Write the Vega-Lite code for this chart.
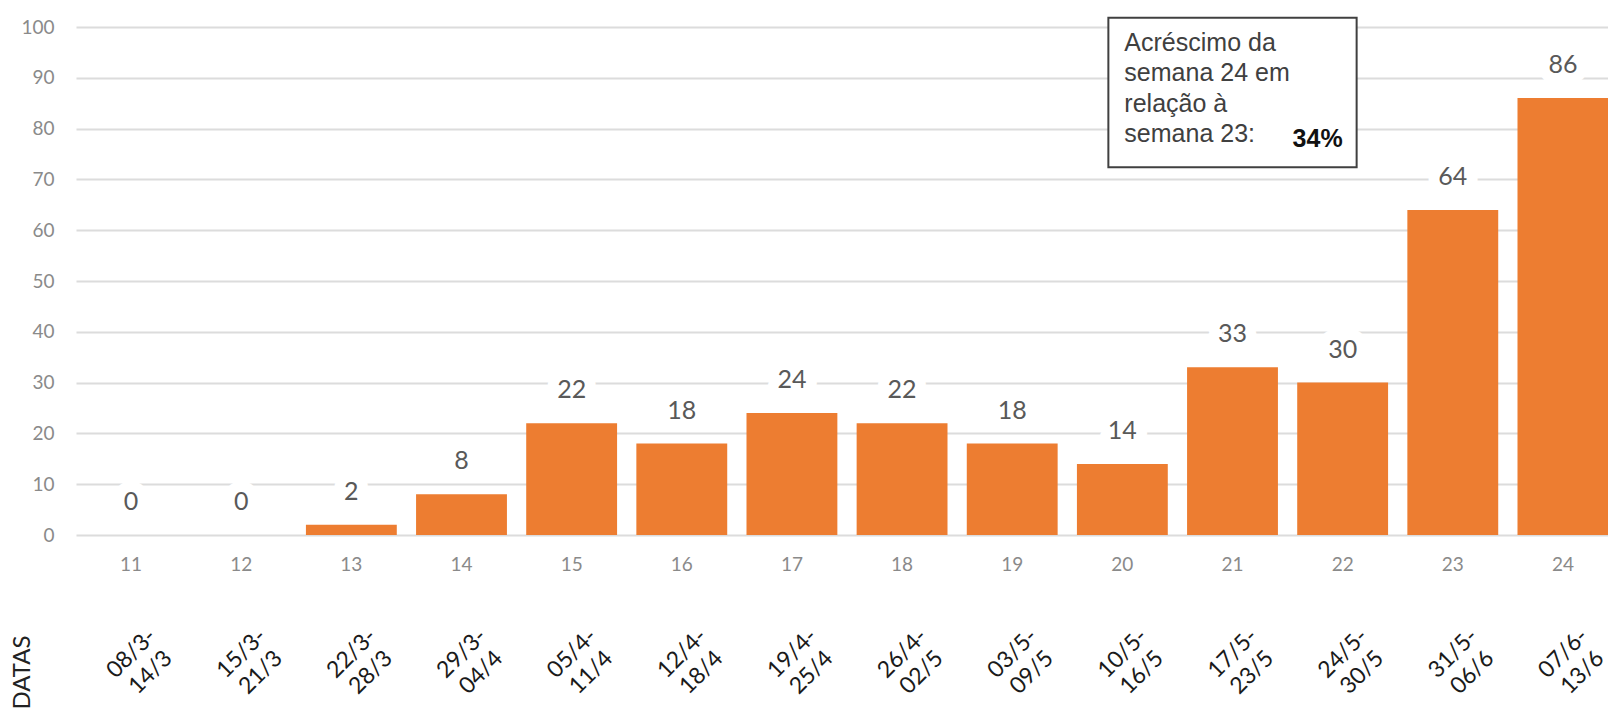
{
  "$schema": "https://vega.github.io/schema/vega-lite/v6.json",
  "width": 1532,
  "height": 508,
  "autosize": {"type": "none"},
  "padding": {"left": 76, "top": 27, "right": 0, "bottom": 178},
  "background": "white",
  "config": {"view": {"stroke": null}},
  "data": {
    "values": [
      {"semana": "11", "datas": "08/3- 14/3", "casos": 0},
      {"semana": "12", "datas": "15/3- 21/3", "casos": 0},
      {"semana": "13", "datas": "22/3- 28/3", "casos": 2},
      {"semana": "14", "datas": "29/3- 04/4", "casos": 8},
      {"semana": "15", "datas": "05/4- 11/4", "casos": 22},
      {"semana": "16", "datas": "12/4- 18/4", "casos": 18},
      {"semana": "17", "datas": "19/4- 25/4", "casos": 24},
      {"semana": "18", "datas": "26/4- 02/5", "casos": 22},
      {"semana": "19", "datas": "03/5- 09/5", "casos": 18},
      {"semana": "20", "datas": "10/5- 16/5", "casos": 14},
      {"semana": "21", "datas": "17/5- 23/5", "casos": 33},
      {"semana": "22", "datas": "24/5- 30/5", "casos": 30},
      {"semana": "23", "datas": "31/5- 06/6", "casos": 64},
      {"semana": "24", "datas": "07/6- 13/6", "casos": 86}
    ]
  },
  "layer": [
    {
      "layer": [
        {
          "mark": {"type": "bar", "color": "#ED7D31"},
          "encoding": {
            "x": {
              "field": "semana", "type": "ordinal",
              "scale": {"range": [0, 1542], "paddingInner": 0.175, "paddingOuter": 0.0875},
              "axis": {
                "title": null, "orient": "bottom", "domain": false, "ticks": false,
                "labelAngle": 0, "labelFont": "Lato", "labelFontSize": 19, "labelColor": "#8a8a8a",
                "labelPadding": 20, "labelBaseline": "top"
              }
            },
            "y": {
              "field": "casos", "type": "quantitative",
              "scale": {"domain": [0, 100], "nice": false},
              "axis": {
                "title": null, "values": [0, 10, 20, 30, 40, 50, 60, 70, 80, 90, 100],
                "domain": false, "ticks": false, "grid": true, "gridColor": "#dcdcdc", "gridWidth": 1.8,
                "labelFont": "Lato", "labelFontSize": 19, "labelColor": "#8a8a8a", "labelPadding": 22
              }
            }
          }
        },
        {
          "data": {"values": [{}]},
          "mark": {"type": "rect", "fill": "white", "stroke": "#404040", "strokeWidth": 2},
          "encoding": {
            "x": {"datum": "20", "type": "ordinal", "bandPosition": 0.346},
            "x2": {"datum": "22", "bandPosition": 0.654},
            "y": {"datum": 101.8, "type": "quantitative"},
            "y2": {"datum": 72.4}
          }
        },
        {
          "data": {"values": [{}]},
          "mark": {"type": "text", "align": "left", "baseline": "top", "dx": 16, "font": "Liberation Sans", "fontSize": 25, "lineHeight": 30.5, "color": "#404040"},
          "encoding": {
            "x": {"datum": "20", "type": "ordinal", "bandPosition": 0.346},
            "y": {"datum": 99.3, "type": "quantitative"},
            "text": {"value": ["Acréscimo da", "semana 24 em", "relação à", "semana 23:"]}
          }
        },
        {
          "data": {"values": [{}]},
          "mark": {"type": "text", "align": "right", "baseline": "alphabetic", "font": "Liberation Sans", "fontSize": 25, "fontWeight": "bold", "color": "#111111"},
          "encoding": {
            "x": {"datum": "22", "type": "ordinal", "bandPosition": 0.5},
            "y": {"datum": 76.4, "type": "quantitative"},
            "text": {"value": "34%"}
          }
        }
      ]
    },
    {
      "layer": [
        {
          "mark": {"type": "text", "baseline": "bottom", "dy": -20, "font": "Lato", "fontSize": 25, "color": "white", "stroke": "white", "strokeWidth": 22, "strokeJoin": "round"},
          "encoding": {
            "x": {
              "field": "datas", "type": "ordinal", "sort": null,
              "scale": {"range": [0, 1542], "paddingInner": 0.175, "paddingOuter": 0.0875},
              "axis": {
                "title": "DATAS", "orient": "bottom", "domain": false, "ticks": false, "grid": false,
                "labelAngle": -45, "labelAlign": "center", "labelBaseline": "middle",
                "labelExpr": "split(datum.label, ' ')",
                "labelFont": "Lato", "labelFontSize": 23, "labelColor": "#1a1a1a", "labelLineHeight": 27,
                "labelPadding": 118, "labelOverlap": false, "labelBound": false, "labelFlush": false,
                "titleAngle": 270, "titleX": -54, "titleY": 137, "titleAlign": "center", "titleBaseline": "middle",
                "titleFont": "Lato", "titleFontSize": 24, "titleFontWeight": "normal", "titleColor": "#222222"
              }
            },
            "y": {"field": "casos", "type": "quantitative"},
            "text": {"field": "casos", "type": "quantitative"}
          }
        },
        {
          "mark": {"type": "text", "baseline": "bottom", "dy": -20, "font": "Lato", "fontSize": 25, "color": "#595959"},
          "encoding": {
            "x": {"field": "datas", "type": "ordinal", "sort": null},
            "y": {"field": "casos", "type": "quantitative"},
            "text": {"field": "casos", "type": "quantitative"}
          }
        }
      ]
    }
  ],
  "resolve": {"scale": {"x": "independent"}, "axis": {"x": "independent"}}
}
